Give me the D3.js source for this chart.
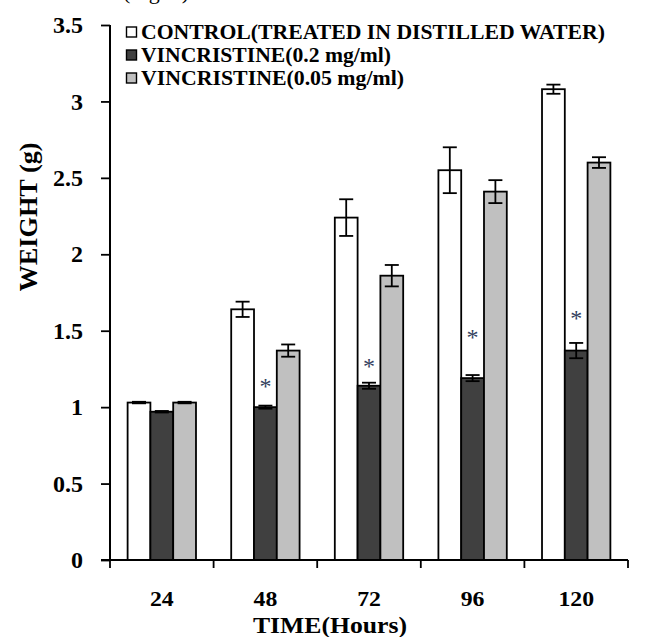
<!DOCTYPE html>
<html>
<head>
<meta charset="utf-8">
<script src="https://cdn.jsdelivr.net/npm/d3@7"></script>
<style>
  html, body { margin: 0; padding: 0; background: #fff; }
  svg { display: block; }
  text { font-family: "Liberation Serif", "Times New Roman", serif; font-weight: bold; fill: #000; }
</style>
</head>
<body>
<svg id="chart" width="652" height="637"></svg>
<script>
// ---- data ----
const categories = ["24", "48", "72", "96", "120"];
const seriesNames = ["CONTROL(TREATED IN DISTILLED WATER)", "VINCRISTINE(0.2 mg/ml)", "VINCRISTINE(0.05 mg/ml)"];
const controlValues = [1.03, 1.64, 2.24, 2.55, 3.08];
const controlErrors = [0.005, 0.05, 0.12, 0.15, 0.03];
const vinHighValues = [0.97, 1.00, 1.14, 1.19, 1.37];
const vinHighErrors = [0.005, 0.01, 0.02, 0.02, 0.05];
const vinLowValues = [1.03, 1.37, 1.86, 2.41, 2.60];
const vinLowErrors = [0.005, 0.04, 0.07, 0.075, 0.035];
const asteriskCategories = ["48", "72", "96", "120"];
const asteriskLevels = [1.165, 1.296, 1.482, 1.612];
const yTicks = [0, 0.5, 1, 1.5, 2, 2.5, 3, 3.5];
const seriesColors = ["#ffffff", "#404040", "#c0c0c0"];

// ---- layout ----
const svg = d3.select("#chart");
const pLeft = 110, pRight = 628, pTop = 25, pBottom = 560;

const x = d3.scaleBand().domain(categories).range([pLeft, pRight]).paddingInner(0.34).paddingOuter(0.17);
const xs = d3.scaleBand().domain(d3.range(seriesNames.length)).range([0, x.bandwidth()]).padding(0);
const y = d3.scaleLinear().domain([0, 3.5]).range([pBottom, pTop]);

const series = [
  { values: controlValues, errors: controlErrors },
  { values: vinHighValues, errors: vinHighErrors },
  { values: vinLowValues, errors: vinLowErrors }
];

// cut-off caption at the very top
svg.append("text").attr("x", 156).attr("y", -1).attr("text-anchor", "middle")
  .style("font-weight", "normal").style("font-size", "22px").text("(Fig. 2)");

// bars
series.forEach((s, si) => {
  const g = svg.append("g");
  g.selectAll("rect").data(categories).join("rect")
    .attr("x", c => x(c) + xs(si))
    .attr("y", (c, i) => y(s.values[i]))
    .attr("width", xs.bandwidth())
    .attr("height", (c, i) => y(0) - y(s.values[i]))
    .attr("fill", seriesColors[si])
    .attr("stroke", "#000").attr("stroke-width", 1.8);
  // error bars
  categories.forEach((c, i) => {
    const cx = x(c) + xs(si) + xs.bandwidth() / 2;
    const hi = y(s.values[i] + s.errors[i]), lo = y(s.values[i] - s.errors[i]);
    const eg = svg.append("g").attr("stroke", "#000").attr("stroke-width", 1.8);
    eg.append("line").attr("x1", cx).attr("x2", cx).attr("y1", hi).attr("y2", lo);
    eg.append("line").attr("x1", cx - 7).attr("x2", cx + 7).attr("y1", hi).attr("y2", hi);
    eg.append("line").attr("x1", cx - 7).attr("x2", cx + 7).attr("y1", lo).attr("y2", lo);
  });
});

// asterisks
svg.append("g").selectAll("text").data(asteriskCategories).join("text")
  .attr("x", c => x(c) + xs(1) + xs.bandwidth() / 2)
  .attr("y", (c, i) => y(asteriskLevels[i]) + 12)
  .attr("text-anchor", "middle")
  .style("font-size", "24px").style("font-weight", "normal").style("fill", "#33405e")
  .text("*");

// y axis
const yAxis = svg.append("g").attr("transform", `translate(${pLeft},0)`)
  .call(d3.axisLeft(y).tickValues(yTicks).tickSize(9).tickPadding(18).tickFormat(d => d3.format("")(d)));
yAxis.select(".domain").attr("d", `M0,${pTop}V${pBottom}`).attr("stroke-width", 2);
yAxis.selectAll(".tick line").attr("stroke-width", 1.8);
yAxis.selectAll(".tick text").style("font-size", "24px").style("font-family", "Liberation Serif").style("font-weight", "bold");

// x axis
const xAxis = svg.append("g").attr("transform", `translate(0,${pBottom})`)
  .call(d3.axisBottom(x).tickSize(0).tickPadding(30));
xAxis.select(".domain").attr("d", `M${pLeft - 9},0H${pRight}`).attr("stroke-width", 2);
xAxis.selectAll(".tick text").style("font-size", "22px").style("font-family", "Liberation Serif").style("font-weight", "bold")
  .attr("textLength", function () { return this.getComputedTextLength() * 1.08; }).attr("lengthAdjust", "spacingAndGlyphs");
// boundary ticks between groups
const boundaries = d3.range(categories.length + 1).map(i => pLeft + i * x.step());
xAxis.append("g").selectAll("line").data(boundaries).join("line")
  .attr("x1", d => d).attr("x2", d => d).attr("y1", 0).attr("y2", 8)
  .attr("stroke", "#000").attr("stroke-width", 1.8);

// axis titles
svg.append("text").attr("transform", `translate(37,217) rotate(-90)`)
  .attr("text-anchor", "middle").style("font-size", "25px")
  .attr("textLength", 149).attr("lengthAdjust", "spacingAndGlyphs").text("WEIGHT (g)");
svg.append("text").attr("x", 330).attr("y", 633).attr("text-anchor", "middle")
  .style("font-size", "23px").attr("textLength", 154).attr("lengthAdjust", "spacingAndGlyphs").text("TIME(Hours)");

// legend
const legend = svg.append("g");
const legendWidths = [464, 250, 263];
seriesNames.forEach((n, i) => {
  const by = 38.5 + i * 23;
  legend.append("rect").attr("x", 126.5).attr("y", by - 11.5).attr("width", 10).attr("height", 10)
    .attr("fill", seriesColors[i]).attr("stroke", "#000").attr("stroke-width", 1.4);
  legend.append("text").attr("x", 141).attr("y", by).style("font-size", "21px")
    .attr("textLength", legendWidths[i]).attr("lengthAdjust", "spacingAndGlyphs").text(n);
});
</script>
</body>
</html>
